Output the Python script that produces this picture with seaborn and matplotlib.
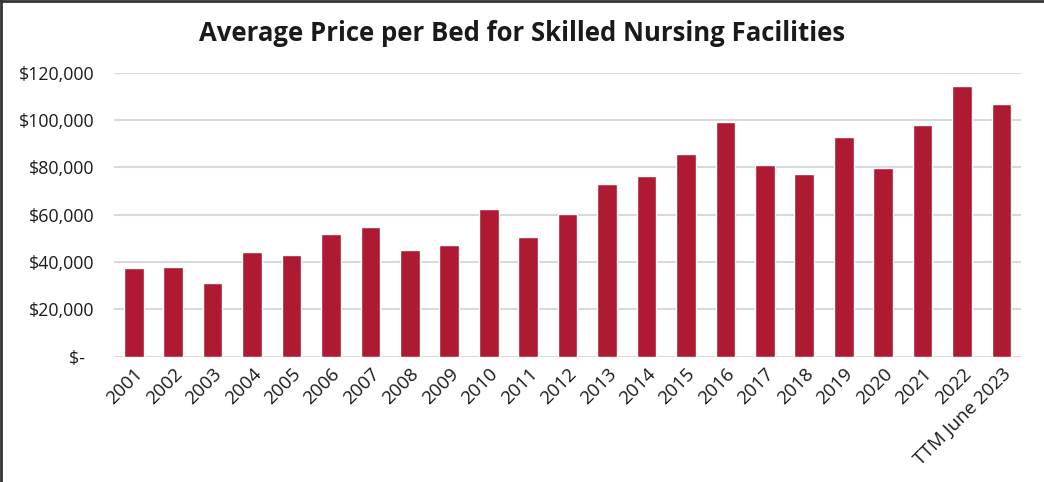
"""
plot.py
-------
Precio promedio por cama en centros de enfermería especializada.
"""

import matplotlib
matplotlib.use("Agg")
import matplotlib.pyplot as plt
import matplotlib.ticker as mticker
from matplotlib.lines import Line2D
import pandas as pd
import seaborn as sns

# ── Datos ─────────────────────────────────────────────────
YEARS = ["2001", "2002", "2003", "2004", "2005", "2006", "2007", "2008",
         "2009", "2010", "2011", "2012", "2013", "2014", "2015", "2016",
         "2017", "2018", "2019", "2020", "2021", "2022", "TTM June 2023"]
PRICE_PER_BED = [37500, 37900, 31100, 44200, 43000, 51800, 54800, 45100,
                 47300, 62400, 50600, 60100, 73000, 76300, 85600, 99200,
                 81000, 77200, 92800, 79700, 97900, 114400, 106800]
Y_TICKS = [0, 20000, 40000, 60000, 80000, 100000, 120000]

# ── Configuración global ──────────────────────────────────
sns.set_theme(style="white")
plt.rcParams["font.family"] = ["Open Sans", "DejaVu Sans"]

BAR_COLOR  = "#AD1A32"
GRID_COLOR = "#D9D9D9"
TEXT_COLOR = "#1A1A1A"

df = pd.DataFrame({"periodo": YEARS, "precio": PRICE_PER_BED})

fig = plt.figure(figsize=(10.44, 4.82), dpi=100)
ax = fig.add_axes([0.1092, 0.26, 0.869, 0.589])

sns.barplot(data=df, x="periodo", y="precio", color=BAR_COLOR,
            saturation=1, width=0.5, ax=ax, zorder=3)

ax.set_ylim(0, 120000)
ax.set_xlim(-0.5, len(YEARS) - 0.5)
ax.set_yticks(Y_TICKS)
ax.yaxis.set_major_formatter(mticker.FuncFormatter(
    lambda v, _: "$-  " if v == 0 else f"${v:,.0f}"))
ax.grid(axis="y", color=GRID_COLOR, linewidth=1.5, zorder=0)
ax.grid(axis="x", visible=False)
for s in ax.spines.values():
    s.set_visible(False)

ax.tick_params(axis="y", length=0, pad=14, labelsize=12.8, labelcolor=TEXT_COLOR)
ax.tick_params(axis="x", length=0, pad=6, labelsize=13.5, labelcolor=TEXT_COLOR)
plt.setp(ax.get_xticklabels(), rotation=45, ha="right",
         rotation_mode="anchor")
ax.set_xlabel("")
ax.set_ylabel("")

fig.text(0.5, 0.93, "Average Price per Bed for Skilled Nursing Facilities",
         ha="center", va="center", fontsize=18.5, fontweight="bold",
         color=TEXT_COLOR)

# borde oscuro arriba e izquierda, como en la imagen original
fig.add_artist(Line2D([0, 1], [0.998, 0.998], transform=fig.transFigure,
                      color="#333333", linewidth=2))
fig.add_artist(Line2D([0.001, 0.001], [0, 1], transform=fig.transFigure,
                      color="#333333", linewidth=2))

fig.savefig("out.png", dpi=100)
